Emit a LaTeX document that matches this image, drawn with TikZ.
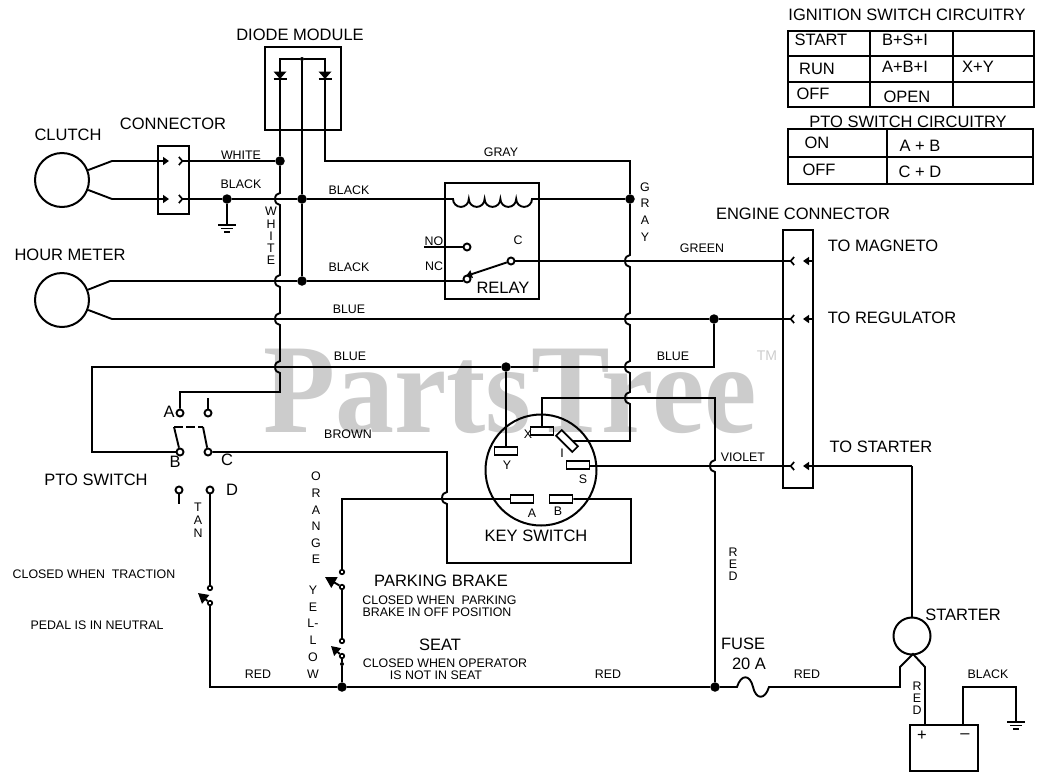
\documentclass[tikz,border=0pt]{standalone}
\usepackage{fontspec}
\setmainfont{Liberation Sans}
\newfontfamily\markfont{Liberation Serif}
\usetikzlibrary{arrows.meta}
\newcommand{\hop}{arc[start angle=90,end angle=270,x radius=5pt,y radius=6pt]}
\newcommand{\coilarc}{arc[start angle=180,end angle=360,radius=7.9pt]}
\tikzset{
  wire/.style={line width=1.9pt,line join=miter},
  part/.style={draw,line width=2pt,inner sep=0pt},
  dot/.style={circle,fill=black,inner sep=0pt,minimum size=9.5pt},
  smalldot/.style={circle,fill=black,inner sep=0pt,minimum size=4pt},
  contact/.style={circle,draw,line width=1.9pt,inner sep=0pt,minimum size=7pt},
  tiny contact/.style={circle,draw,line width=1.7pt,inner sep=0pt,minimum size=4.5pt},
  term/.style={part,line width=1.7pt,minimum width=23pt,minimum height=8pt},
  bigtext/.style={inner sep=0pt,font=\fontsize{16.5}{16.5}\selectfont},
  smalltext/.style={inner sep=0pt,font=\fontsize{12.4}{12.4}\selectfont},
  vert/.style={inner sep=0pt,align=center,font=\fontsize{12.4}{#1}\selectfont},
  barb/.tip={Straight Barb[reversed,length=3.5pt,width=8pt,line width=1.7pt]},
  diode/.pic={\fill (-6.5,-3.5) -- (6.5,-3.5) -- (0,4) -- cycle; \draw[line width=2pt] (-6.5,4) -- (6.5,4);},
  ground/.pic={\draw[line width=1.6pt] (-9,0) -- (9,0) (-6,3.5) -- (6,3.5) (-3,7) -- (3,7);}
}
\begin{document}
\begin{tikzpicture}[x=1pt,y=-1pt,>={Triangle[length=6pt,width=8pt]}]
\useasboundingbox (0,0) rectangle (1048,782);
\node[text=black!20,inner sep=0pt,yscale=1.08,transform shape,font=\markfont\bfseries\fontsize{118}{118}\selectfont] (mark) at (510,391) {PartsTree};
\node[text=black!20,inner sep=0pt,font=\fontsize{14}{14}\selectfont] (tm) at (767,356) {TM};

\node[circle,part,minimum size=54pt] (clutch) at (62,180) {};
\node[circle,part,minimum size=54pt] (hourmeter) at (62,300) {};
\node[circle,part,minimum size=37pt] (starter) at (912,636) {};
\node[circle,part,minimum size=111pt] (keyswitch) at (541,470) {};
\node[part,minimum width=31pt,minimum height=68pt] (conn) at (173.5,180) {};
\node[part,minimum width=76pt,minimum height=83pt] (diodebox) at (303,88.5) {};
\node[part,minimum width=94pt,minimum height=116pt] (relay) at (492,241) {};
\node[part,minimum width=30pt,minimum height=258pt] (engine) at (798,359) {};
\node[part,minimum width=68pt,minimum height=46pt] (battery) at (944,748) {};

\node[term] (tY) at (506,451) {};
\node[term] (tX) at (542,431) {};
\node[term,rotate=-45] (tI) at (567,441) {};
\node[term] (tS) at (578,465) {};
\node[term] (tA) at (522,499) {};
\node[term] (tB) at (561,499) {};

\node[dot] (jWhite) at (280,161) {};
\node[dot] (jBlack) at (227,199) {};
\node[dot] (jB1) at (302,199) {};
\node[dot] (jB2) at (302,281) {};
\node[dot] (jGray) at (630,199) {};
\node[dot] (jKey) at (506,367) {};
\node[dot] (jBlue) at (714,319) {};
\node[dot] (jRed) at (342,687) {};
\node[dot] (jFuse) at (715,687) {};
\node[smalldot] (jTop) at (302,59) {};

\node[contact] (cNO) at (467,247) {};
\node[contact] (cNC) at (467,279) {};
\node[contact] (cC) at (511,261) {};
\node[contact] (cA) at (180,413) {};
\node[contact] (cE) at (208,413) {};
\node[contact] (cB) at (180,452) {};
\node[contact] (cF) at (208,452) {};
\node[contact] (cG) at (179,490) {};
\node[contact] (cD) at (210,490) {};
\node[tiny contact] (cTr1) at (210,588) {};
\node[tiny contact] (cTr2) at (210,603) {};
\node[tiny contact] (cPb1) at (342,572) {};
\node[tiny contact] (cPb2) at (342,587) {};
\node[tiny contact] (cSt1) at (342,641) {};
\node[tiny contact] (cSt2) at (342,656) {};
\node[smalldot] (cSt3) at (342,664) {};

\coordinate (cl1) at (112,161);
\coordinate (cl2) at (112,199);
\coordinate (hm1) at (110,281);
\coordinate (hm2) at (112,319);
\coordinate (pinA) at (169,161);
\coordinate (pinB) at (169,199);
\coordinate (socA) at (178,161);
\coordinate (socB) at (178,199);
\coordinate (gnd1) at (227,225);
\coordinate (gnd2) at (1016,722);
\coordinate (gr1) at (325,161);
\coordinate (gr2) at (630,161);
\coordinate (gr3) at (630,441);
\coordinate (tIw) at (573,441);
\coordinate (coilL) at (453,199);
\coordinate (noEnd) at (424,247);
\coordinate (ncW) at (463,281);
\coordinate (hw1) at (280,199);
\coordinate (hw2) at (280,281);
\coordinate (hw3) at (280,319);
\coordinate (hw4) at (280,367);
\coordinate (hg1) at (630,261);
\coordinate (hg2) at (630,319);
\coordinate (hg3) at (630,367);
\coordinate (hg4) at (630,398);
\coordinate (hv1) at (715,466);
\coordinate (hb1) at (447,498);
\coordinate (wt1) at (280,392);
\coordinate (wt2) at (180,392);
\coordinate (stubE) at (208,398);
\coordinate (stubG) at (179,504);
\coordinate (bl1) at (92,452);
\coordinate (bl2) at (92,367);
\coordinate (bl3) at (714,367);
\coordinate (xa) at (542,398);
\coordinate (xb) at (715,398);
\coordinate (tSe) at (590,466);
\coordinate (plug1) at (795,261);
\coordinate (plug2) at (795,319);
\coordinate (plug3) at (795,466);
\coordinate (eng1) at (813,261);
\coordinate (eng2) at (813,319);
\coordinate (sock1) at (803,261);
\coordinate (sock2) at (803,319);
\coordinate (sock3) at (803,466);
\coordinate (st1) at (912,466);
\coordinate (br1) at (447,452);
\coordinate (br2) at (447,563);
\coordinate (br3) at (631,563);
\coordinate (br4) at (631,499);
\coordinate (or1) at (342,499);
\coordinate (red1) at (210,687);
\coordinate (fuseL) at (737,687);
\coordinate (fuseR) at (769,687);
\coordinate (sr1) at (900,687);
\coordinate (sr2) at (900,667);
\coordinate (sr3) at (913,654);
\coordinate (sr4) at (925,667);
\coordinate (batP) at (925,725);
\coordinate (batN) at (963,725);
\coordinate (bk1) at (963,687);
\coordinate (bk2) at (1016,687);
\coordinate (pt1) at (174,427);
\coordinate (pt2) at (203,427);
\coordinate (arTr) at (198,593);
\coordinate (arPb) at (325,577);
\coordinate (arSt) at (331,646);
\coordinate (arNC) at (466,276);

\draw[wire,->] (clutch) -- (cl1) -- (pinA);
\draw[wire,->] (clutch) -- (cl2) -- (pinB);
\draw[wire,barb-] (socA) -- (jWhite);
\draw[wire,barb-] (socB) -- (jBlack);
\draw[wire] (jBlack) -- (jB1) -- (coilL) \coilarc \coilarc \coilarc \coilarc \coilarc -- (jGray);
\draw[wire] (jBlack) -- (gnd1);
\pic at (gnd1) {ground};
\pic at (gnd2) {ground};
\draw[wire] (jTop) -| (jWhite);
\draw[wire] (jTop) -- (jB1) -- (jB2);
\draw[wire] (jTop) -| (gr1) -- (gr2) -- (jGray);
\pic at (280,75) {diode};
\pic at (325,75) {diode};
\draw[wire] (jWhite) -- ([yshift=6pt]hw1) \hop -- ([yshift=6pt]hw2) \hop -- ([yshift=6pt]hw3) \hop -- ([yshift=6pt]hw4) \hop -- (wt1) -- (wt2) -- (cA);
\draw[wire] (jGray) -- ([yshift=6pt]hg1) \hop -- ([yshift=6pt]hg2) \hop -- ([yshift=6pt]hg3) \hop -- ([yshift=6pt]hg4) \hop -- (gr3) -- (tIw);
\draw[wire] (hourmeter) -- (hm1) -- (jB2) -- (ncW);
\draw[wire] (hourmeter) -- (hm2) -- (jBlue);
\draw[wire,-barb] (jBlue) -- (plug2);
\draw[wire,-barb] (cC) -- (plug1);
\draw[wire,->] (cC) -- (arNC);
\draw[wire] (noEnd) -- (cNO);
\draw[wire] (cB) -- (bl1) -- (bl2) -- (jKey) -- (bl3) -- (jBlue);
\draw[wire] (jKey) -- (tY);
\draw[wire] (tX) -- (xa) -- (xb) -- ([yshift=6pt]hv1) \hop -- (jFuse);
\draw[wire,-barb] (tSe) -- (plug3);
\draw[wire,->] (eng1) -- (sock1);
\draw[wire,->] (eng2) -- (sock2);
\draw[wire,->] (st1) -- (sock3);
\draw[wire] (starter) -- (st1);
\draw[wire] (cF) -- (br1) -- ([yshift=6pt]hb1) \hop -- (br2) -- (br3) -- (br4) -- (tB);
\draw[wire] (cPb1) -- (or1) -- (tA);
\draw[wire] (cPb2) -- (cSt1);
\draw[wire] (cSt2) -- (cSt3) -- (jRed);
\draw[wire] (cD) -- (cTr1);
\draw[wire] (cTr2) -- (red1) -- (jRed) -- (jFuse) -- (fuseL) .. controls (741,674) and (750,674) .. (753,687) .. controls (756,700) and (765,700) .. (fuseR) -- (sr1) -- (sr2) -- (sr3) -- (sr4) -- (batP);
\draw[wire] (batN) -- (bk1) -- (bk2) -- (gnd2);
\draw[wire] (cE) -- (stubE);
\draw[wire] (cG) -- (stubG);
\draw[wire] (cB) -- (pt1);
\draw[wire] (cF) -- (pt2);
\draw[wire,dash pattern=on 9pt off 3pt] (pt1) -- (pt2);
\draw[wire,-{Triangle[length=10pt,width=11pt]}] (cTr2) -- (arTr);
\draw[wire,-{Triangle[length=11pt,width=12pt]}] (cPb2) -- (arPb);
\draw[wire,-{Triangle[length=9pt,width=10pt]}] (cSt2) -- (arSt);

\foreach \ya/\yb/\xa/\xb in {31/107/788/1034,31/56/788/1034,56/82/788/1034,129/184/788/1033,129/157/788/1033}
  \draw[part] (\xa,\ya) rectangle (\xb,\yb);
\draw[part] (870,31) -- (870,107) (953,31) -- (953,107) (887,129) -- (887,184);

\foreach \x/\y/\name/\txt in {300/35/lDiode/DIODE MODULE,173/124/lConn/CONNECTOR,68/135/lClutch/CLUTCH,70/255/lHour/HOUR METER,96/480/lPto/PTO SWITCH,503/288/lRelay/RELAY,536/536/lKey/KEY SWITCH,803/214/lEngine/ENGINE CONNECTOR,883/246/lMag/TO MAGNETO,892/318/lReg/TO REGULATOR,881/447/lSta/TO STARTER,441/581/lPark/PARKING BRAKE,440/645/lSeat/SEAT,743/644/lFuse/FUSE,749/664/lAmp/20 A,907/15/lIgn/IGNITION SWITCH CIRCUITRY,908/122/lPtoc/PTO SWITCH CIRCUITRY,821/40/cStart/START,905/40/cBSI/B+S+I,817/69/cRun/RUN,905/67/cABI/A+B+I,978/67/cXY/X+Y,813/94/cOff/OFF,907/97/cOpen/OPEN,817/143/cOn/ON,920/146/cAB/A + B,819/170/cOff2/OFF,920/172/cCD/C + D,169/412/lA/A,175/462/lB/B,227/460/lC/C,232/490/lD/D,963/615/lStarter/STARTER,922/736/lPlus/+,965/736/lMinus/--}
  \node[bigtext] (\name) at (\x,\y) {\txt};

\foreach \x/\y/\name/\txt in {241/155/wWhite/WHITE,241/184/wBlack/BLACK,349/190/wBlack2/BLACK,349/267/wBlack3/BLACK,501/152/wGray/GRAY,349/309/wBlue/BLUE,350/356/wBlue2/BLUE,673/356/wBlue3/BLUE,702/248/wGreen/GREEN,743/457/wViolet/VIOLET,348/434/wBrown/BROWN,258/674/wRed/RED,608/674/wRed2/RED,807/674/wRed3/RED,988/674/wBlack4/BLACK,434/241/lNO/NO,434/266/lNC/NC,518/240/lCc/C,507/465/lY/Y,528/434/lX/X,562/453/lI/I,583/479/lS/S,532/513/lAa/A,558/511/lBb/B,439.5/600/nPark1/CLOSED WHEN\ \ PARKING,437/612/nPark2/BRAKE IN OFF POSITION,445/663/nSeat1/CLOSED WHEN OPERATOR,436/675/nSeat2/IS NOT IN SEAT,94/574/nTrac1/CLOSED WHEN\ \ TRACTION,97/625/nTrac2/PEDAL IS IN NEUTRAL}
  \node[smalltext] (\name) at (\x,\y) {\txt};

\node[vert=12.2] (vWhite) at (271,236) {W\\H\\I\\T\\E};
\node[vert=16.7] (vGray) at (645,212) {G\\R\\A\\Y};
\node[vert=16.6] (vOrange) at (316,518) {O\\R\\A\\N\\G\\E};
\node[vert=16.8] (vYellow) at (313,632) {Y\\E\\L-\\L\\O\\W};
\node[vert=13] (vTan) at (198,520) {T\\A\\N};
\node[vert=12] (vRed) at (733,564) {R\\E\\D};
\node[vert=12] (vRed2) at (917,698) {R\\E\\D};
\end{tikzpicture}
\end{document}
